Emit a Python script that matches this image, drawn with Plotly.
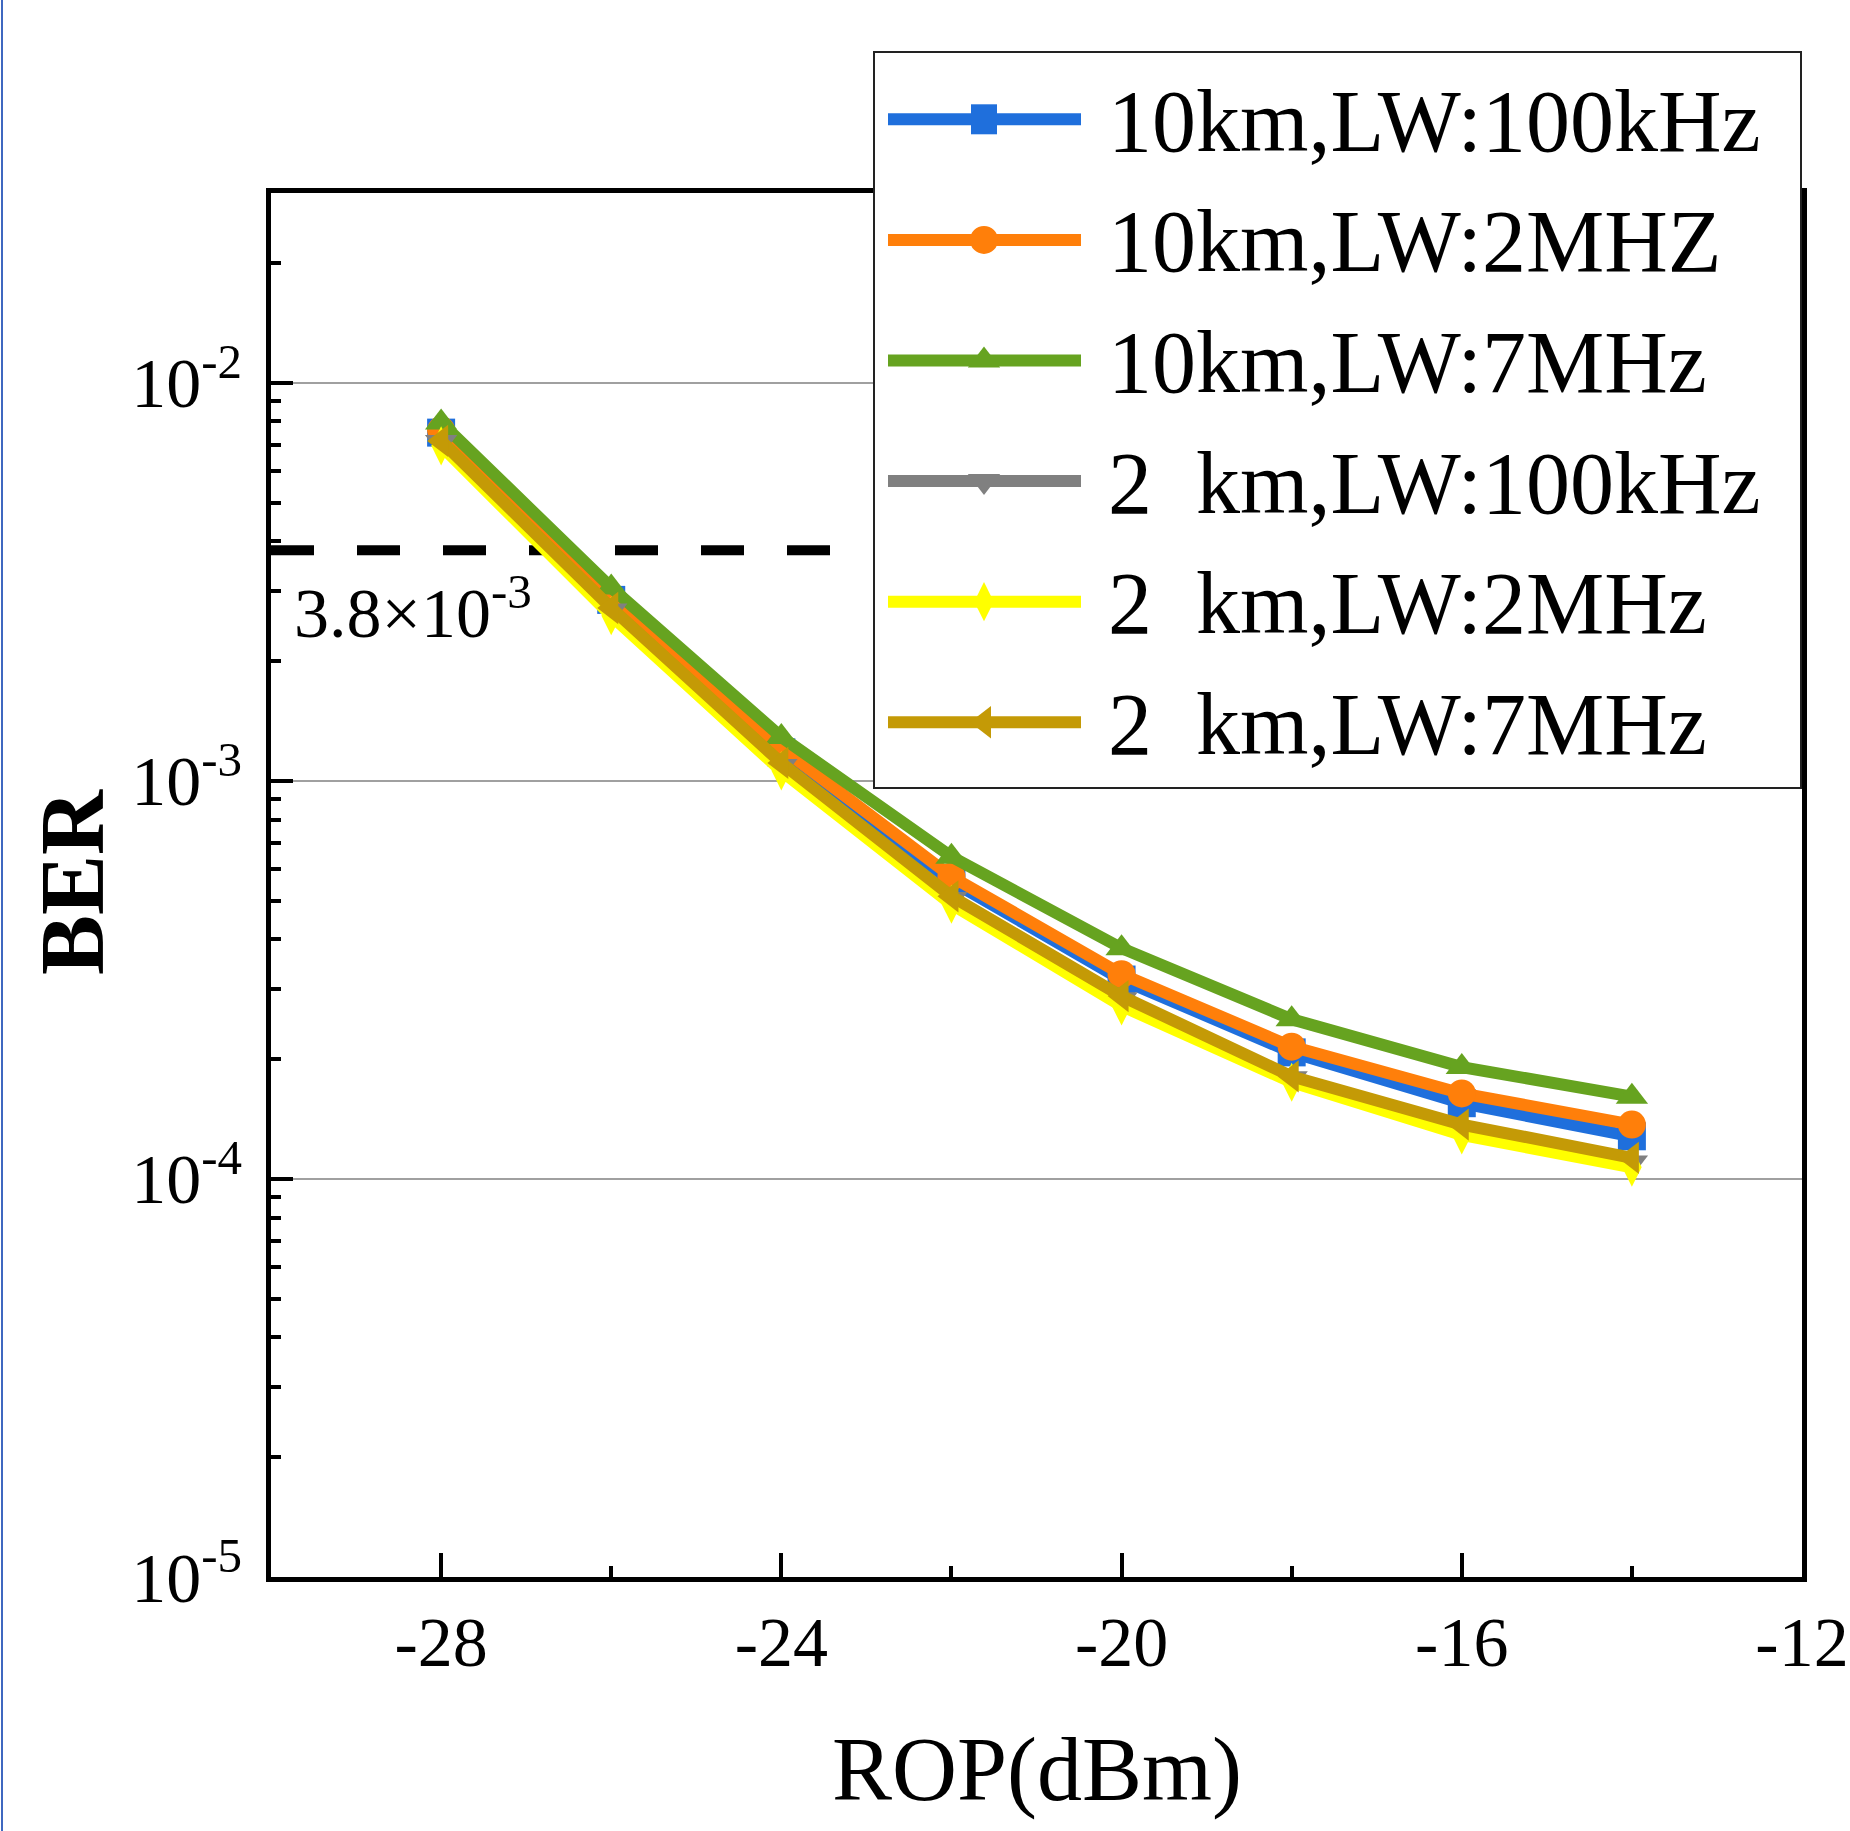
import math
import plotly.graph_objects as go

# Received optical power (dBm)
rop = [-28, -26, -24, -22, -20, -18, -16, -14]

# BER curves
ber_10km_100khz = [7.5e-3, 2.85e-3, 1.18e-3, 5.6e-4, 3.17e-4, 2.08e-4, 1.55e-4, 1.28e-4]
ber_10km_2mhz = [7.6e-3, 2.9e-3, 1.21e-3, 5.75e-4, 3.27e-4, 2.15e-4, 1.64e-4, 1.37e-4]
ber_10km_7mhz = [7.95e-3, 3.06e-3, 1.29e-3, 6.45e-4, 3.8e-4, 2.52e-4, 1.91e-4, 1.61e-4]
ber_2km_100khz = [7.1e-3, 2.68e-3, 1.09e-3, 5.05e-4, 2.83e-4, 1.79e-4, 1.33e-4, 1.10e-4]
ber_2km_2mhz = [6.95e-3, 2.6e-3, 1.06e-3, 4.9e-4, 2.72e-4, 1.75e-4, 1.29e-4, 1.07e-4]
ber_2km_7mhz = [7.15e-3, 2.72e-3, 1.11e-3, 5.13e-4, 2.88e-4, 1.81e-4, 1.37e-4, 1.13e-4]

series_names = [
    "10km,LW:100kHz",
    "10km,LW:2MHZ",
    "10km,LW:7MHz",
    "2\u00a0 km,LW:100kHz",
    "2\u00a0 km,LW:2MHz",
    "2\u00a0 km,LW:7MHz",
]
series_values = [ber_10km_100khz, ber_10km_2mhz, ber_10km_7mhz,
                 ber_2km_100khz, ber_2km_2mhz, ber_2km_7mhz]
colors = ["#1F6FDC", "#FF7F0A", "#66A320", "#808080", "#FFFF00", "#C49A06"]
symbols = ["square", "circle", "triangle-up", "triangle-down", "diamond-tall", "triangle-left"]

# FEC threshold
fec_limit = 3.8e-3
fec_label = "3.8×10<sup>-3</sup>"

# Axis ticks
x_range = [-30, -12]
x_tickvals = [-28, -24, -20, -16, -12]
x_ticktext = ["-28", "-24", "-20", "-16", "-12"]
x_minor = [-26, -22, -18, -14]
y_tickvals = [1e-5, 1e-4, 1e-3, 1e-2]
y_ticktext = ["10<sup>-5</sup>", "10<sup>-4</sup>", "10<sup>-3</sup>", "10<sup>-2</sup>"]
y_minor = [m * 10.0 ** e for e in (-5, -4, -3, -2) for m in range(2, 10) if m * 10.0 ** e <= 0.03]

FONT = "Liberation Serif"
W, H = 1850, 1831

# plot area in pixels
px_l, px_r, px_t, px_b = 271, 1802, 193, 1577
# legend box in pixels
lg_l, lg_r, lg_t, lg_b = 874, 1801, 52, 788

fig = go.Figure()

# FEC threshold line (under the curves)
fig.add_trace(go.Scatter(
    x=x_range, y=[fec_limit, fec_limit], mode="lines",
    line=dict(color="black", width=10, dash="43px,43px"),
    showlegend=False, hoverinfo="skip",
))

for name, vals, col, sym in zip(series_names, series_values, colors, symbols):
    fig.add_trace(go.Scatter(
        x=rop, y=vals, name=name, mode="lines+markers",
        line=dict(color=col, width=12),
        marker=dict(symbol=sym, size=28, color=col, line=dict(width=0)),
        showlegend=False,
    ))

# threshold label (annotation positions on a log axis are given in log10 units)
fig.add_annotation(x=-29.75, y=math.log10(fec_limit), xref="x", yref="y", text=fec_label,
                   showarrow=False, xanchor="left", yanchor="top", yshift=-12,
                   font=dict(family=FONT, size=70, color="black"))

# legend box: white panel with thin border, drawn over the frame and grid
fig.add_shape(type="rect", xref="paper", yref="paper",
              x0=lg_l / W, x1=lg_r / W, y0=1 - lg_b / H, y1=1 - lg_t / H,
              layer="above", fillcolor="white", line=dict(color="#222222", width=2))

# legend keys, placed on an auxiliary coordinate system spanning the legend box
row_gap = 120.6
row0 = 67.3
key_x0, key_xm, key_x1 = 14, 110, 207
for i, (name, col, sym) in enumerate(zip(series_names, colors, symbols)):
    yy = row0 + i * row_gap
    fig.add_shape(type="line", xref="x2", yref="y2", x0=key_x0, x1=key_x1, y0=yy, y1=yy,
                  layer="above", line=dict(color=col, width=12))
    if sym == "circle":
        fig.add_shape(type="circle", xref="x2", yref="y2",
                      x0=key_xm - 14, x1=key_xm + 14, y0=yy - 14, y1=yy + 14,
                      layer="above", fillcolor=col, line=dict(width=0))
    else:
        if sym == "square":
            pts = [(-13, -15), (13, -15), (13, 15), (-13, 15)]
        elif sym == "triangle-up":
            pts = [(-16.2, 7), (16.2, 7), (0, -14)]
        elif sym == "triangle-down":
            pts = [(-16.2, -7), (16.2, -7), (0, 14)]
        elif sym == "diamond-tall":
            pts = [(0, -19.6), (9.8, 0), (0, 19.6), (-9.8, 0)]
        else:  # triangle-left
            pts = [(7, -16.2), (7, 16.2), (-14, 0)]
        path = "M " + " L ".join(f"{key_xm + px},{yy + py}" for px, py in pts) + " Z"
        fig.add_shape(type="path", xref="x2", yref="y2", path=path,
                      layer="above", fillcolor=col, line=dict(width=0))
    fig.add_annotation(x=232, y=yy + 2, xref="x2", yref="y2", text=name,
                       showarrow=False, xanchor="left", yanchor="middle",
                       font=dict(family=FONT, size=88, color="black"))

# thin blue border along the left edge
fig.add_shape(type="line", xref="paper", yref="paper", x0=2 / W, x1=2 / W, y0=0, y1=1,
              layer="above", line=dict(color="#3F68C0", width=2))

# axis titles
fig.add_annotation(x=(px_l + px_r) / 2 / W, y=1 - 1770 / H, xref="paper", yref="paper",
                   text="ROP(dBm)", showarrow=False, xanchor="center", yanchor="middle",
                   font=dict(family=FONT, size=90, color="black"))
fig.add_annotation(x=73 / W, y=1 - 882 / H, xref="paper", yref="paper",
                   text="<b>BER</b>", showarrow=False, textangle=-90,
                   xanchor="center", yanchor="middle",
                   font=dict(family=FONT, size=90, color="black"))

fig.update_layout(
    width=W, height=H,
    margin=dict(l=0, r=0, t=0, b=0),
    paper_bgcolor="white", plot_bgcolor="white",
    font=dict(family=FONT, color="black"),
    xaxis=dict(
        domain=[px_l / W, px_r / W], range=x_range,
        tickmode="array", tickvals=x_tickvals, ticktext=x_ticktext,
        ticks="inside", ticklen=24, tickwidth=4, tickcolor="black",
        minor=dict(ticks="inside", ticklen=11, tickwidth=4, tickcolor="black",
                   tickmode="array", tickvals=x_minor),
        showline=True, linewidth=5, linecolor="black", mirror=True,
        showgrid=False, zeroline=False, automargin=False,
        tickfont=dict(family=FONT, size=70, color="black"),
        ticklabelstandoff=0,
    ),
    yaxis=dict(
        domain=[1 - px_b / H, 1 - px_t / H], type="log", range=[-5, -1.5229],
        tickmode="array", tickvals=y_tickvals, ticktext=y_ticktext,
        ticks="inside", ticklen=22, tickwidth=4, tickcolor="black",
        minor=dict(ticks="inside", ticklen=10, tickwidth=4, tickcolor="black",
                   tickmode="array", tickvals=y_minor, showgrid=False),
        showline=True, linewidth=5, linecolor="black", mirror=True,
        showgrid=True, gridcolor="#A0A0A0", gridwidth=2,
        zeroline=False, automargin=False,
        tickfont=dict(family=FONT, size=70, color="black"),
        ticklabelstandoff=10,
    ),
    xaxis2=dict(
        domain=[lg_l / W, lg_r / W], range=[0, lg_r - lg_l], anchor="y2",
        visible=False, fixedrange=True,
    ),
    yaxis2=dict(
        domain=[1 - lg_b / H, 1 - lg_t / H], range=[lg_b - lg_t, 0], anchor="x2",
        visible=False, fixedrange=True,
    ),
)

fig.write_html("out.html")
